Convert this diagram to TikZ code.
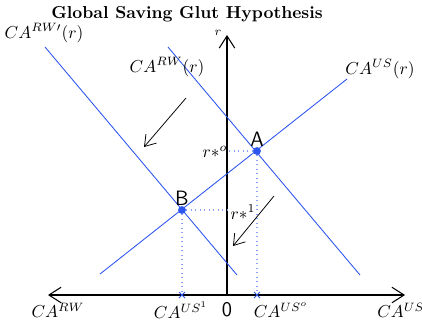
\documentclass[tikz,border=0pt]{standalone}
\usetikzlibrary{arrows.meta}
\definecolor{curveblue}{RGB}{45,85,240}
\definecolor{guideblue}{RGB}{140,160,250}

\begin{document}
\begin{tikzpicture}[x=0.0203cm,y=-0.0203cm,
  curve/.style={curveblue,line width=0.5pt},
  guide/.style={guideblue,dotted,line width=0.6pt},
  axis/.style={line width=0.6pt,-{Straight Barb[length=7pt,width=9pt]}},
  moveline/.style={line width=0.45pt,-{Straight Barb[length=6pt,width=8pt]}},
  dotpt/.style={circle,fill=curveblue,inner sep=0pt,minimum size=4.5pt}]
  \useasboundingbox (0,0) rectangle (422,320);
  % axes
  \coordinate (O) at (227,295);
  \coordinate (xl) at (48,295);
  \coordinate (xr) at (405,295);
  \coordinate (yt) at (227,35);
  \draw[axis] (O) -- (xl);
  \draw[axis] (O) -- (xr);
  \draw[axis] (O) -- (yt);
  % curves
  \coordinate (us0) at (100,274);
  \coordinate (us1) at (347,79);
  \coordinate (rw0) at (168,47);
  \coordinate (rw1) at (360,275);
  \coordinate (rwp0) at (45,47);
  \coordinate (rwp1) at (237,275);
  \draw[curve] (us0) -- (us1);
  \draw[curve] (rw0) -- (rw1);
  \draw[curve] (rwp0) -- (rwp1);
  % equilibria
  \node[dotpt] (A) at (257,151) {};
  \node[dotpt] (B) at (182,210) {};
  \coordinate (Ar) at (227,151);
  \coordinate (Br) at (227,210);
  \coordinate (Ax) at (257,295);
  \coordinate (Bx) at (182,295);
  \draw[guide] (A) -- (Ar);
  \draw[guide] (A) -- (Ax);
  \draw[guide] (B) -- (Br);
  \draw[guide] (B) -- (Bx);
  \draw[curveblue,line width=0.5pt] (Ax) +(-3,-3) -- +(3,3) (Ax) +(-3,3) -- +(3,-3);
  \draw[curveblue,line width=0.5pt] (Bx) +(-3,-3) -- +(3,3) (Bx) +(-3,3) -- +(3,-3);
  % shifts
  \coordinate (s1a) at (186,98);
  \coordinate (s1b) at (144,147);
  \coordinate (s2a) at (274,196);
  \coordinate (s2b) at (233,246);
  \draw[moveline] (s1a) -- (s1b);
  \draw[moveline] (s2a) -- (s2b);
  % labels
  \node (title) at (187,14) {\textbf{Global Saving Glut Hypothesis}};
  \node (lrwp) at (44,33) {$CA^{RW\prime}(r)$};
  \node (lrw) at (167,67) {$CA^{RW}(r)$};
  \node (lus) at (380,69) {$CA^{US}(r)$};
  \node[inner sep=1pt] (lr) at (218,33) {$\scriptstyle r$};
  \node (lA) at (257,139) {\sffamily\large A};
  \node (lB) at (182,198) {\sffamily\large B};
  \node (lro) at (215,152) {$r{*}^o$};
  \node (lr1) at (243,212) {$r{*}^1$};
  \node[inner sep=0pt] (lzero) at (227,310) {\sffamily\large 0};
  \node (lrwx) at (58,310) {$CA^{RW}$};
  \node (lus1) at (181,310) {$CA^{US^1}$};
  \node (luso) at (281,310) {$CA^{US^o}$};
  \node[anchor=west,inner sep=0pt] (lusx) at (377,310) {$CA^{US}$};
\end{tikzpicture}
\end{document}
